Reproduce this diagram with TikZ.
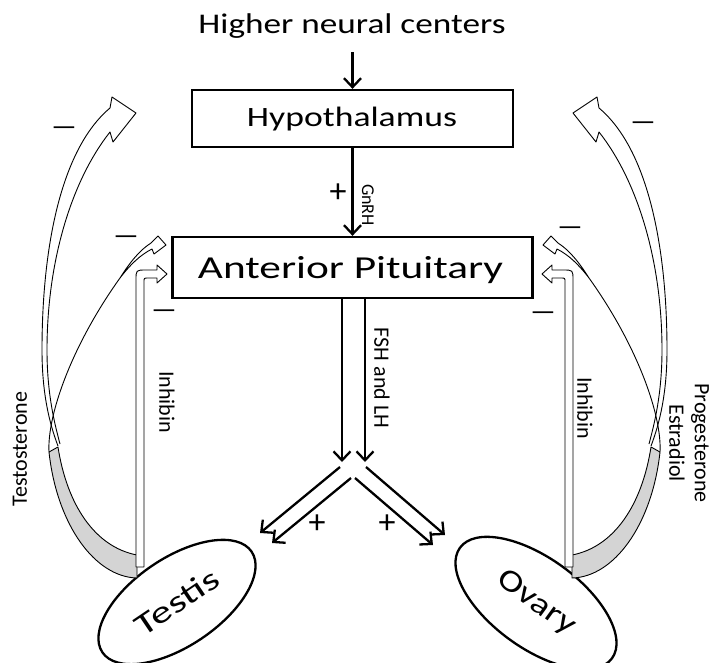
\documentclass[tikz,border=0pt]{standalone}
\usepackage{fontspec}
\setmainfont{Carlito}
\usepackage{graphicx}
\usetikzlibrary{arrows.meta,shapes.geometric}
\newcommand\fitw[2]{\resizebox{#1}{\height}{#2}}
\newcommand\fsz[1]{\fontsize{#1}{#1}\selectfont}
\newcommand\fbside{%
  % gray stem
  \draw[thinline, fill=black!17] (137,555) .. controls (95,547) and (67,505) .. (58,447)
     -- (49,452) .. controls (57,525) and (95,577) .. (137,578) -- cycle;
  % long arrow to hypothalamus
  \draw[thinline] (58,446) .. controls (52,430) and (42,400) .. (42,350)
     .. controls (42,250) and (60,150) .. (110,108) -- (112,97) -- (136,113)
     -- (113,142) -- (110,132) .. controls (72,180) and (47,260) .. (47,350)
     .. controls (47,395) and (55,425) .. (60,444);
  % short arrow to anterior pituitary
  \draw[thinline] (49,452) .. controls (47,415) and (72,345) .. (120,278)
     .. controls (130,262) and (140,250) .. (151,243) -- (158,236) -- (166,245)
     -- (154,254) -- (152,249) .. controls (140,255) and (130,265) .. (120,278);
  % inhibin
  \draw[thinline, fill=white] (136,567) -- (136,280) .. controls (136,270) .. (146,270)
     -- (157,270) -- (157,265) -- (167,274) -- (157,283) -- (157,278) -- (148,278)
     .. controls (144,278) .. (144,282) -- (144,567) -- cycle;
}
\begin{document}
\begin{tikzpicture}[x=1pt,y=-1pt,
  box/.style={draw, line width=2.3pt, inner sep=0pt},
  arr/.style={line width=2.3pt, -{Straight Barb[length=9pt,width=17pt]}},
  thinline/.style={line width=0.9pt, line join=round},
  lab/.style={inner sep=0pt, font=\fsz{22}},
  sgn/.style={inner sep=0pt, font=\fsz{34}},
  mns/.style={inner sep=0pt, font=\fsz{28}},
  oval/.style={draw, ellipse, line width=2.3pt, inner sep=0pt, minimum width=180pt, minimum height=88pt}]
\useasboundingbox (0,0) rectangle (710,662);
\fill[white] (0,0) rectangle (710,662);

% main chain
\node[anchor=base, inner sep=0pt] (hnc) at (352,33) {\fitw{307pt}{\fsz{28.5}Higher neural centers}};
\node[box, minimum width=321pt, minimum height=57pt] (hyp) at (352.5,118.5) {};
\node[anchor=base, inner sep=0pt] (hyptext) at (352,126) {\fitw{210pt}{\fsz{28}Hypothalamus}};
\node[box, minimum width=360pt, minimum height=61pt] (ap) at (352.5,267.5) {};
\node[anchor=base, inner sep=0pt] (aptext) at (350.5,278) {\fitw{305pt}{\fsz{32}Anterior Pituitary}};

\coordinate (h0) at (352.5,52);
\draw[arr] (h0) -- (hyp.north);
\draw[arr] (hyp.south) -- (ap.north);
\node[sgn] (p1) at (338,193) {+};
\node[lab, rotate=-90, font=\fsz{18}] (gnrh) at (368,205) {GnRH};

% FSH and LH
\coordinate (v1) at (342,462);
\coordinate (v2) at (365,462);
\draw[arr] (ap.south -| v1) -- (v1);
\draw[arr] (ap.south -| v2) -- (v2);
\node[lab, rotate=-90] (fsh) at (382,378) {FSH and LH};

\coordinate (lo1) at (340,467); \coordinate (lt1) at (260,533);
\coordinate (li1) at (351,478); \coordinate (lt2) at (272,543);
\coordinate (ro1) at (366,467); \coordinate (rt1) at (445,535);
\coordinate (ri1) at (355,478); \coordinate (rt2) at (433,545);
\draw[arr] (lo1) -- (lt1);
\draw[arr] (li1) -- (lt2);
\draw[arr] (ro1) -- (rt1);
\draw[arr] (ri1) -- (rt2);
\node[sgn] (p2) at (317,524) {+};
\node[sgn] (p3) at (387,524) {+};

% gonads
\node[oval, rotate=34] (testis) at (177,602) {\fitw{94pt}{\fsz{31}Testis}};
\node[oval, rotate=-36, minimum width=188pt, minimum height=90pt] (ovary) at (536,603) {\fitw{90pt}{\fsz{31}Ovary}};

% feedback loops
\fbside
\begin{scope}[xshift=709pt, xscale=-1]
\fbside
\end{scope}

% labels
\node[lab, rotate=90] (testo) at (20,449) {Testosterone};
\node[lab, rotate=-90] (inh1) at (167,402) {Inhibin};
\node[lab, rotate=-90] (inh2) at (585,408) {Inhibin};
\node[lab, rotate=-90] (prog) at (700,443) {Progesterone};
\node[lab, rotate=-90] (estr) at (677,443) {Estradiol};

% minus signs
\node[mns] (m1) at (64,131) {—};
\node[mns] (m2) at (126,240) {—};
\node[mns] (m3) at (164,314) {—};
\node[mns] (m4) at (643,126) {—};
\node[mns] (m5) at (570,231) {—};
\node[mns] (m6) at (543,316) {—};
\end{tikzpicture}
\end{document}
